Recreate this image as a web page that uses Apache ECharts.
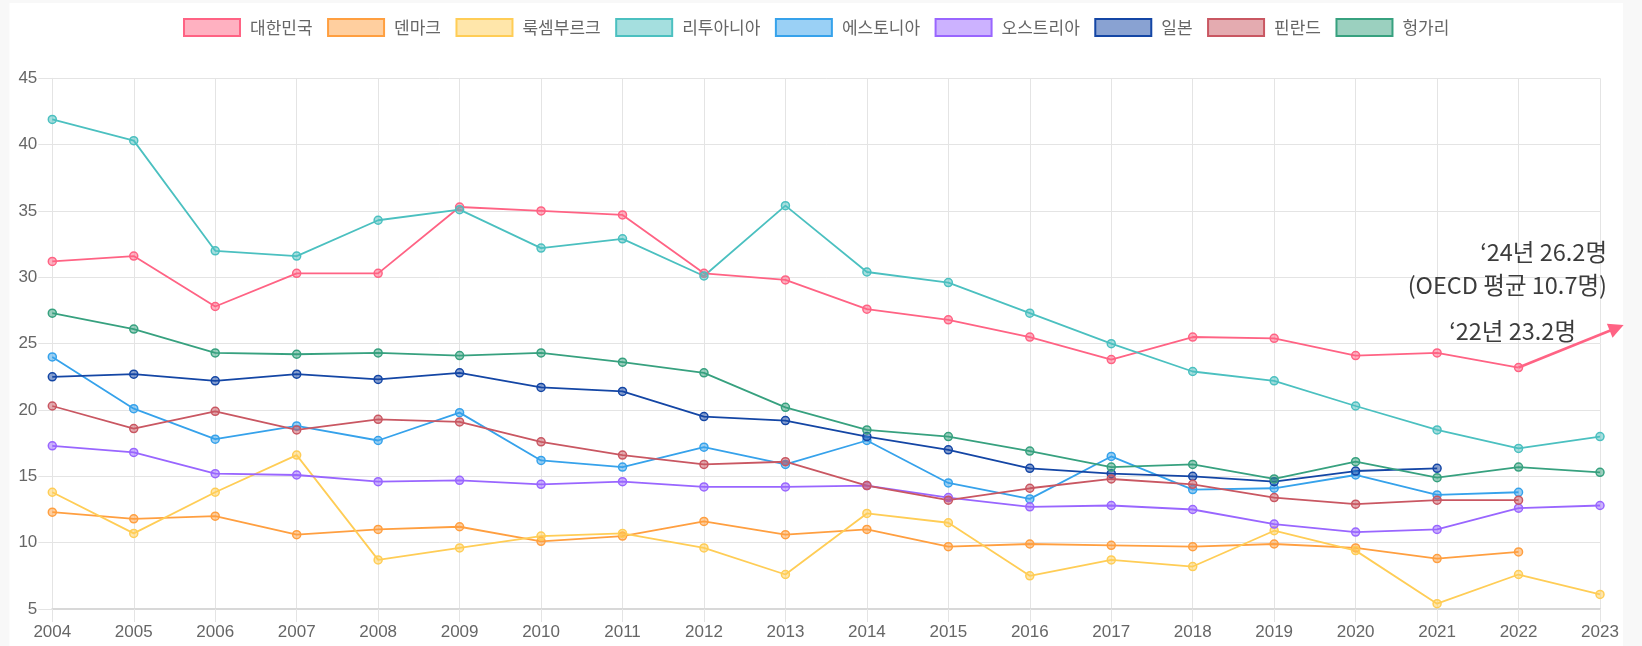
<!DOCTYPE html>
<html><head><meta charset="utf-8">
<script src="https://cdn.jsdelivr.net/npm/echarts@6/dist/echarts.min.js"></script>
<style>html,body{margin:0;padding:0;background:#f8f8f8}#c{width:1642px;height:646px}</style>
</head><body><div id="c"></div>
<script>
const years = [2004,2005,2006,2007,2008,2009,2010,2011,2012,2013,2014,2015,2016,2017,2018,2019,2020,2021,2022,2023];
const seriesNames = ['대한민국','덴마크','룩셈부르크','리투아니아','에스토니아','오스트리아','일본','핀란드','헝가리'];
const korea      = [31.2,31.6,27.8,30.3,30.3,35.3,35.0,34.7,30.3,29.8,27.6,26.8,25.5,23.8,25.5,25.4,24.1,24.3,23.2,null];
const denmark    = [12.3,11.8,12.0,10.6,11.0,11.2,10.1,10.5,11.6,10.6,11.0,9.7,9.9,9.8,9.7,9.9,9.6,8.8,9.3,null];
const luxembourg = [13.8,10.7,13.8,16.6,8.7,9.6,10.5,10.7,9.6,7.6,12.2,11.5,7.5,8.7,8.2,10.9,9.4,5.4,7.6,6.1];
const lithuania  = [41.9,40.3,32.0,31.6,34.3,35.1,32.2,32.9,30.1,35.4,30.4,29.6,27.3,25.0,22.9,22.2,20.3,18.5,17.1,18.0];
const estonia    = [24.0,20.1,17.8,18.8,17.7,19.8,16.2,15.7,17.2,15.9,17.7,14.5,13.3,16.5,14.0,14.1,15.1,13.6,13.8,null];
const austria    = [17.3,16.8,15.2,15.1,14.6,14.7,14.4,14.6,14.2,14.2,14.3,13.4,12.7,12.8,12.5,11.4,10.8,11.0,12.6,12.8];
const japan      = [22.5,22.7,22.2,22.7,22.3,22.8,21.7,21.4,19.5,19.2,18.0,17.0,15.6,15.2,15.0,14.6,15.4,15.6,null,null];
const finland    = [20.3,18.6,19.9,18.5,19.3,19.1,17.6,16.6,15.9,16.1,14.3,13.2,14.1,14.8,14.4,13.4,12.9,13.2,13.2,null];
const hungary    = [27.3,26.1,24.3,24.2,24.3,24.1,24.3,23.6,22.8,20.2,18.5,18.0,16.9,15.7,15.9,14.8,16.1,14.9,15.7,15.3];
const arrowFrom = [2022, 23.2];
const arrowTo   = [2023.29, 26.4];
const noteLine1 = '‘24년 26.2명';
const noteLine2 = '(OECD 평균 10.7명)';
const noteKorea = '‘22년 23.2명';
const yTicks = {min: 5, max: 45, interval: 5};

const allValues = [korea, denmark, luxembourg, lithuania, estonia, austria, japan, finland, hungary];
const rgb = [[255,99,132],[255,159,64],[255,205,86],[75,192,192],[54,162,235],[153,102,255],[20,70,165],[201,87,98],[55,161,127]];
const col = (c,a) => a===undefined ? `rgb(${c[0]},${c[1]},${c[2]})` : `rgba(${c[0]},${c[1]},${c[2]},${a})`;
const gridColor = '#e4e4e4';
const noteFont = '23.5px "Noto Sans CJK KR"';
const noteColor = '#3c3c3c';

const series = allValues.map((vals, i) => ({
  name: seriesNames[i], type: 'line',
  data: years.map((y, k) => vals[k] == null ? null : [y, vals[k]]).filter(d => d),
  symbol: 'circle', symbolSize: 8, showSymbol: true,
  lineStyle: {color: col(rgb[i]), width: 1.8},
  itemStyle: {color: col(rgb[i], 0.5), borderColor: col(rgb[i]), borderWidth: 1.5},
  emphasis: {disabled: true}, z: 2
}));

const chart = echarts.init(document.getElementById('c'));
const baseGraphic = [
  {id: 'bg', type: 'rect', silent: true, z: -100, shape: {x: 9.5, y: 3, width: 1613.5, height: 643}, style: {fill: '#ffffff'}},
  {id: 't1', type: 'text', right: 35, top: 240, z: 100, silent: true,
   style: {text: noteLine1, align: 'right', fill: noteColor, font: noteFont}},
  {id: 't2', type: 'text', right: 35, top: 273, z: 100, silent: true,
   style: {text: noteLine2, align: 'right', fill: noteColor, font: noteFont}},
  {id: 't3', type: 'text', right: 66, top: 319, z: 100, silent: true,
   style: {text: noteKorea, align: 'right', fill: noteColor, font: noteFont}}
];
chart.setOption({
  animation: false,
  backgroundColor: '#f8f8f8',
  graphic: baseGraphic,
  legend: {
    left: 178, top: 13, itemWidth: 56, itemHeight: 17, itemGap: 14.5, icon: 'rect',
    textStyle: {color: '#666', fontSize: 17, fontFamily: '"Noto Sans CJK KR"', padding: [0,0,0,5], lineHeight: 17},
    data: seriesNames.map((n, i) => ({name: n, itemStyle: {color: col(rgb[i], 0.5), borderColor: col(rgb[i]), borderWidth: 2}}))
  },
  grid: {left: 52.3, right: 42, top: 78.3, bottom: 37, containLabel: false, outerBoundsMode: 'none'},
  xAxis: {
    type: 'value', min: years[0], max: years[years.length - 1], interval: 1,
    axisLine: {show: true, lineStyle: {color: '#d8d8d8', width: 2}},
    axisTick: {show: true, length: 13, lineStyle: {color: gridColor}},
    axisLabel: {margin: 15, color: '#666', fontSize: 17, fontFamily: '"Liberation Sans", Arial', formatter: v => String(v)},
    splitLine: {show: true, lineStyle: {color: gridColor}}
  },
  yAxis: {
    type: 'value', min: yTicks.min, max: yTicks.max, interval: yTicks.interval,
    axisLine: {show: true, lineStyle: {color: gridColor}},
    axisTick: {show: true, length: 14, lineStyle: {color: gridColor}},
    axisLabel: {margin: 15, color: '#666', fontSize: 17, fontFamily: '"Liberation Sans", Arial'},
    splitLine: {show: true, lineStyle: {color: gridColor}}
  },
  series: series
});

// arrow from the 2022 Korea point, placed through the chart's own scales
const p0 = chart.convertToPixel({gridIndex: 0}, arrowFrom);
const p1 = chart.convertToPixel({gridIndex: 0}, arrowTo);
const dx = p1[0] - p0[0], dy = p1[1] - p0[1];
const len = Math.hypot(dx, dy), ux = dx / len, uy = dy / len;
const headL = 15, headW = 7.5;
const bx = p1[0] - ux * headL, by = p1[1] - uy * headL;
chart.setOption({
  graphic: baseGraphic.concat([
    {id: 'arrowLine', type: 'line', silent: true, z: 50,
     shape: {x1: p0[0], y1: p0[1], x2: bx + ux * 2, y2: by + uy * 2},
     style: {stroke: col(rgb[0]), lineWidth: 2.6}},
    {id: 'arrowHead', type: 'polygon', silent: true, z: 50,
     shape: {points: [[p1[0], p1[1]], [bx - uy * headW, by + ux * headW], [bx + uy * headW, by - ux * headW]]},
     style: {fill: col(rgb[0])}}
  ])
});
</script></body></html>
